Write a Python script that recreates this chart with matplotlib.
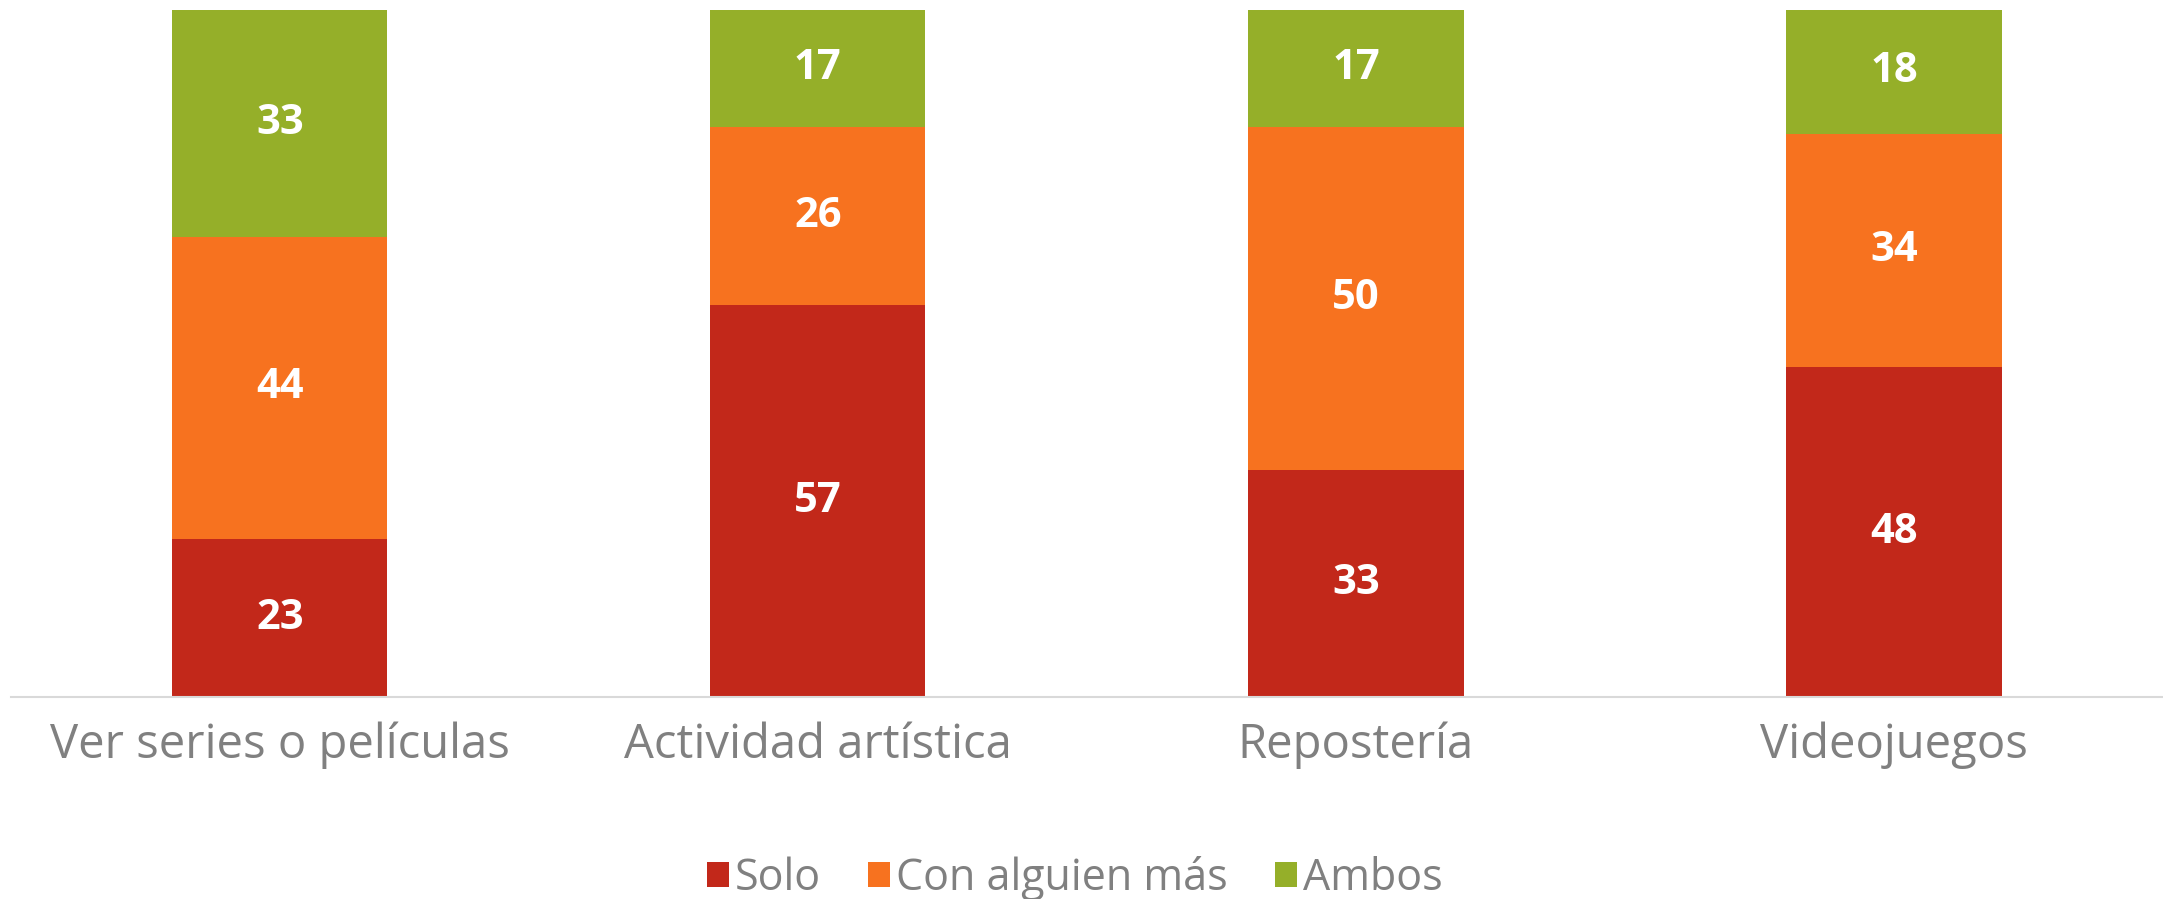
import matplotlib.pyplot as plt
import numpy as np

plt.rcParams['font.family'] = ['Open Sans', 'DejaVu Sans']

categories = ['Ver series o películas', 'Actividad artística', 'Repostería', 'Videojuegos']
solo = [23, 57, 33, 48]
con_alguien = [44, 26, 50, 34]
ambos = [33, 17, 17, 18]

series = [('Solo', solo, '#C2281A'),
          ('Con alguien más', con_alguien, '#F7721F'),
          ('Ambos', ambos, '#95AF29')]

fig = plt.figure(figsize=(21.63, 8.99), dpi=100)
ax = fig.add_axes([0.005, 0.2247, 0.995, 0.764])

x = np.arange(len(categories))
bottom = np.zeros(len(categories))
for name, vals, color in series:
    vals = np.array(vals, dtype=float)
    bars = ax.bar(x, vals, width=0.4, bottom=bottom, color=color, label=name)
    ax.bar_label(bars, labels=[str(int(v)) for v in vals], label_type='center',
                 color='white', fontsize=30, fontweight='bold')
    bottom += vals

ax.set_xlim(-0.5, 3.5)
ax.set_ylim(0, 100)
ax.set_xticks(x)
ax.set_xticklabels(categories, fontsize=34, color='#808080')
ax.tick_params(axis='x', length=0, pad=18)
ax.set_yticks([])
for s in ['top', 'right', 'left']:
    ax.spines[s].set_visible(False)
ax.spines['bottom'].set_color('#D9D9D9')
ax.spines['bottom'].set_linewidth(1.5)

fig.legend(loc='lower center', bbox_to_anchor=(0.497, -0.045), ncol=3, frameon=False,
           fontsize=31, labelcolor='#808080', handlelength=0.5, handleheight=0.5,
           handletextpad=0.15, columnspacing=1.1)

fig.savefig('out.png', dpi=100)
